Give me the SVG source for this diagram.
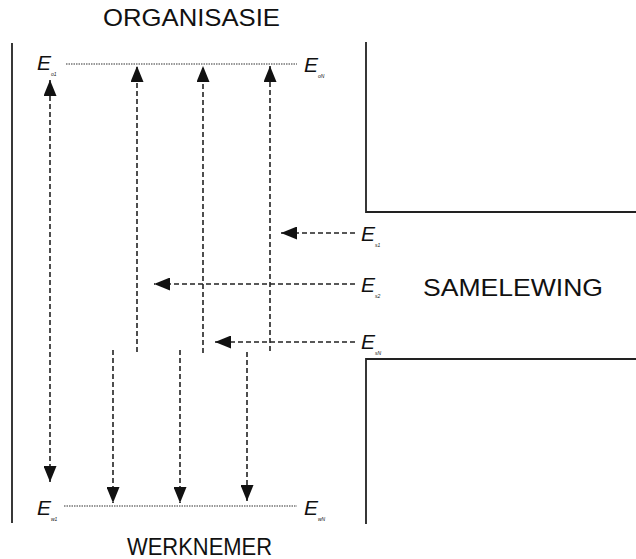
<svg xmlns="http://www.w3.org/2000/svg" width="636" height="559" viewBox="0 0 636 559">
<style>
.t{font-family:"Liberation Sans",Arial,sans-serif;font-size:24px;fill:#111}
.e{font-family:"Liberation Sans",Arial,sans-serif;font-size:21px;font-style:italic;fill:#111}
.s{font-family:"Liberation Sans",Arial,sans-serif;font-size:5px;font-style:italic;fill:#111}
.b{stroke:#222;stroke-width:1.8;fill:none}
.d{stroke:#222;stroke-width:1.6;stroke-dasharray:5,3;fill:none}
.dot{stroke:#333;stroke-width:1.2;stroke-dasharray:1.5,1;fill:none}
</style>
<defs>
<marker id="ah" viewBox="0 0 16 13" refX="16" refY="6.5" markerWidth="16" markerHeight="13" markerUnits="userSpaceOnUse" orient="auto-start-reverse">
<path d="M0,0 L16,6.5 L0,13 Z" fill="#111"/>
</marker>
</defs>
<rect width="636" height="559" fill="#fff"/>
<g id="organisasie"><text class="t" x="103" y="26" textLength="177" lengthAdjust="spacingAndGlyphs">ORGANISASIE</text></g>
<g id="werknemer"><text class="t" x="127" y="555" textLength="145" lengthAdjust="spacingAndGlyphs">WERKNEMER</text></g>
<g id="samelewing"><text class="t" x="423" y="296" textLength="180" lengthAdjust="spacingAndGlyphs">SAMELEWING</text></g>
<g id="boundaries">
<path class="b" d="M12,43 V523"/>
<path class="b" d="M366,42 V212 H636"/>
<path class="b" d="M636,359 H366 V524"/>
</g>
<g id="levels">
<path class="dot" d="M66,64 H297"/>
<path class="dot" d="M64,506 H297"/>
</g>
<g id="E_o1"><text class="e" x="37" y="70">E</text><text class="s" x="51" y="76">o1</text></g>
<g id="E_oN"><text class="e" x="304" y="72">E</text><text class="s" x="318" y="78">oN</text></g>
<g id="E_w1"><text class="e" x="37" y="515">E</text><text class="s" x="51" y="521">w1</text></g>
<g id="E_wN"><text class="e" x="304" y="515">E</text><text class="s" x="318" y="521">wN</text></g>
<g id="E_s1"><text class="e" x="361" y="241">E</text><text class="s" x="375" y="247">s1</text></g>
<g id="E_s2"><text class="e" x="361" y="292">E</text><text class="s" x="375" y="298">s2</text></g>
<g id="E_sN"><text class="e" x="361" y="349">E</text><text class="s" x="375" y="355">sN</text></g>
<g id="connectors">
<path class="d" d="M50,80 V482" marker-start="url(#ah)" marker-end="url(#ah)"/>
<path class="d" d="M137,352 V66" marker-end="url(#ah)"/>
<path class="d" d="M203,353 V66" marker-end="url(#ah)"/>
<path class="d" d="M270,351 V66" marker-end="url(#ah)"/>
<path class="d" d="M113,350 V503" marker-end="url(#ah)"/>
<path class="d" d="M180,350 V503" marker-end="url(#ah)"/>
<path class="d" d="M247,352 V501" marker-end="url(#ah)"/>
<path class="d" d="M355,233 H281" marker-end="url(#ah)"/>
<path class="d" d="M355,284 H154" marker-end="url(#ah)"/>
<path class="d" d="M355,342 H215" marker-end="url(#ah)"/>
</g>
</svg>
